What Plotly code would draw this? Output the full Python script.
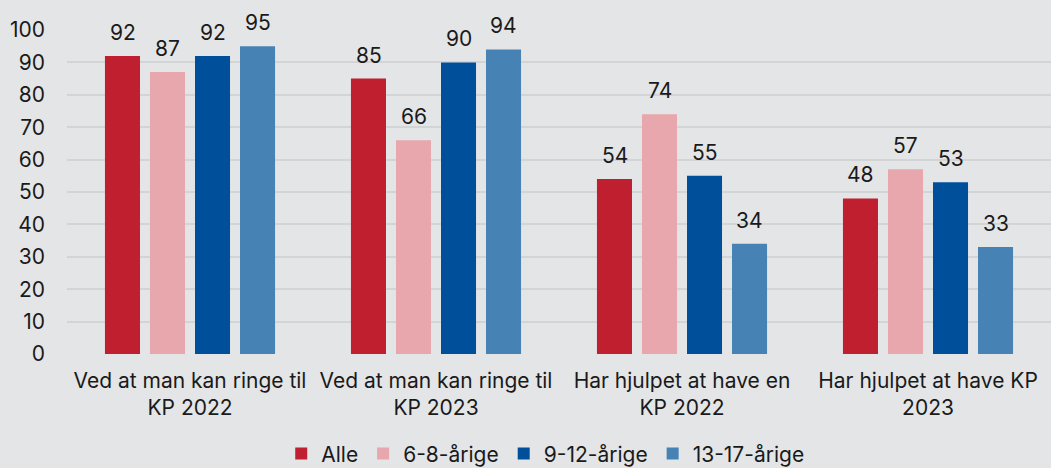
import plotly.graph_objects as go

categories = ["Ved at man kan ringe til<br>KP 2022", "Ved at man kan ringe til<br>KP 2023",
              "Har hjulpet at have en<br>KP 2022", "Har hjulpet at have KP<br>2023"]
series_names = ["Alle", "6-8-årige", "9-12-årige", "13-17-årige"]
alle = [92, 85, 54, 48]
age_6_8 = [87, 66, 74, 57]
age_9_12 = [92, 90, 55, 53]
age_13_17 = [95, 94, 34, 33]
colors = ["#C01F30", "#E8A6AD", "#004F9B", "#4682B4"]

FS = 21
fig = go.Figure()
all_series = [alle, age_6_8, age_9_12, age_13_17]
for name, vals, col in zip(series_names, all_series, colors):
    fig.add_trace(go.Bar(
        x=categories, y=vals, name=name,
        marker=dict(color=col, line=dict(width=0)),
    ))

# value labels above bars
slot_px = 45
for i, vals in enumerate(all_series):
    for cat, v in zip(categories, vals):
        fig.add_annotation(x=cat, y=v, text=str(v), showarrow=False,
                           xref="x", yref="y", yanchor="bottom",
                           xshift=(i - 1.5) * slot_px, yshift=9,
                           font=dict(size=FS, color="#1a1a1a"))

bg = "#E4E5E7"
fig.update_layout(
    width=1051, height=468,
    paper_bgcolor=bg, plot_bgcolor=bg,
    font=dict(family="Inter, Noto Sans, sans-serif", size=FS, color="#1a1a1a"),
    margin=dict(l=67, r=0, t=30, b=114, autoexpand=False),
    barmode="group", bargap=0.268, bargroupgap=0.222,
    showlegend=True,
    legend=dict(orientation="h", x=0.486, xanchor="center", y=-0.308, yanchor="middle",
                font=dict(size=FS), traceorder="normal", bgcolor="rgba(0,0,0,0)"),
    xaxis=dict(tickfont=dict(size=FS), showgrid=False, zeroline=False, showline=False,
               ticks="", ticklabelstandoff=12),
    yaxis=dict(range=[0, 100], dtick=10, tickfont=dict(size=FS), showgrid=True,
               gridcolor="#D3D4D6", gridwidth=2, zeroline=False, ticks="", ticklabelstandoff=21),
)
fig.write_html("out.html", config={"displayModeBar": False},
               post_script="document.body.style.margin='0';")
